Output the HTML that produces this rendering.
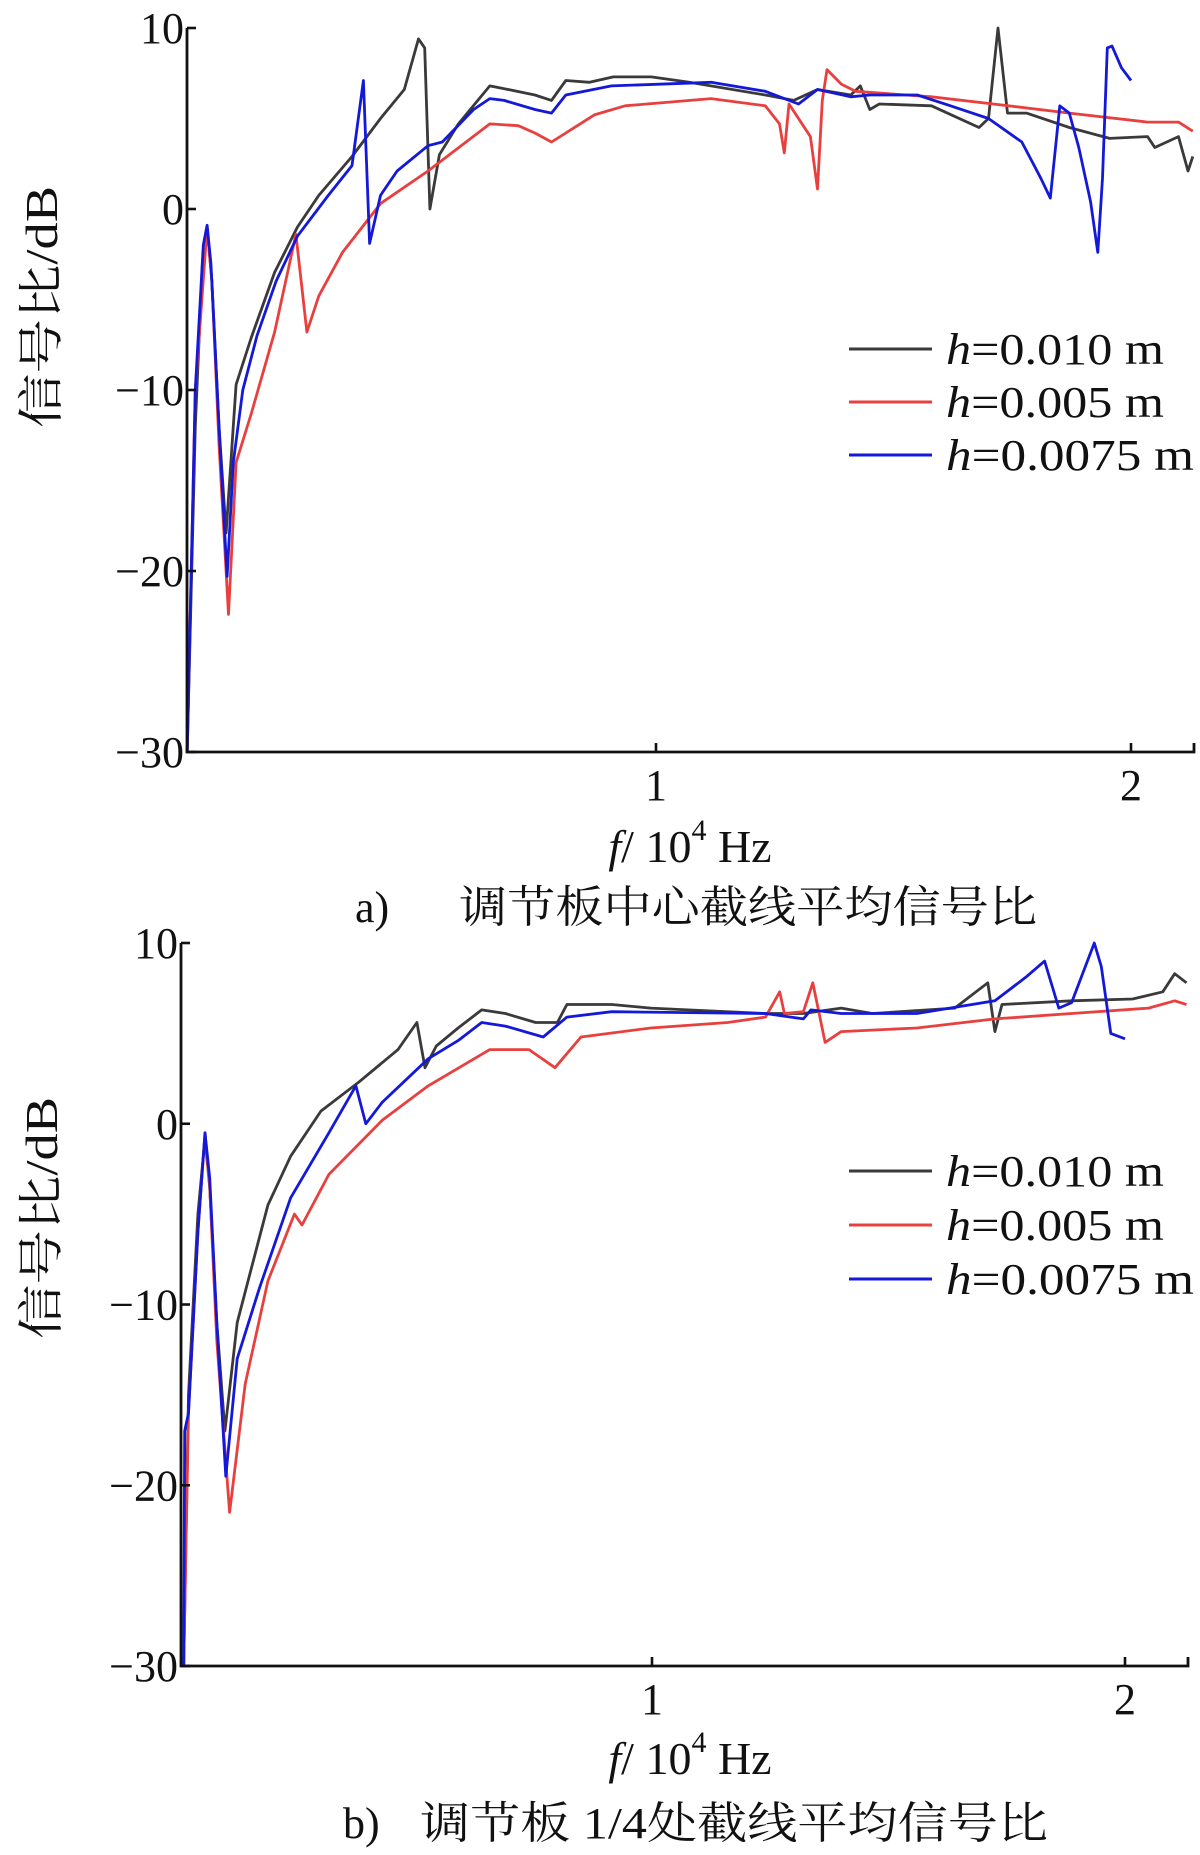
<!DOCTYPE html>
<html><head><meta charset="utf-8"><style>
html,body{margin:0;padding:0;background:#fff;}
svg{display:block;}
text{font-family:"Liberation Serif","Noto Serif CJK SC",serif;fill:#111;}
</style></head><body>
<svg id="fig" width="1200" height="1855" viewBox="0 0 1200 1855" xmlns="http://www.w3.org/2000/svg"></svg>
<script>
const yTicks=[10,0,-10,-20,-30];
const yTickLabels=["10","0","\u221210","\u221220","\u221230"];
const xTicks=[1,2];
const xTickLabels=["1","2"];
const seriesNames=["h=0.010 m","h=0.005 m","h=0.0075 m"];
const seriesColors=["#3a3a3a","#e8403e","#1418d8"];
const aBlack=[[0.013,-30],[0.03,-12],[0.045,-3],[0.055,-1],[0.065,-4],[0.08,-12],[0.095,-17.9],[0.116,-9.7],[0.148,-7.1],[0.197,-3.5],[0.245,-1],[0.29,0.75],[0.36,2.9],[0.42,5.0],[0.47,6.6],[0.5,9.4],[0.513,8.9],[0.524,0],[0.544,3],[0.584,4.7],[0.65,6.8],[0.67,6.7],[0.745,6.3],[0.78,6.0],[0.81,7.1],[0.86,7.0],[0.91,7.3],[0.99,7.3],[1.07,7.0],[1.23,6.3],[1.29,6.0],[1.34,6.6],[1.41,6.3],[1.43,6.8],[1.45,5.5],[1.47,5.8],[1.58,5.7],[1.68,4.5],[1.70,5.0],[1.72,10],[1.74,5.3],[1.78,5.3],[1.87,4.5],[1.955,3.9],[2.035,4.0],[2.05,3.4],[2.10,4.0],[2.12,2.1],[2.13,2.9]];
const aRed=[[0.013,-30],[0.03,-10],[0.055,-1],[0.065,-4],[0.08,-13],[0.1,-22.4],[0.116,-14],[0.148,-11.3],[0.197,-6.8],[0.242,-1.4],[0.265,-6.8],[0.29,-4.8],[0.34,-2.4],[0.42,0.3],[0.52,2.1],[0.65,4.7],[0.71,4.6],[0.745,4.2],[0.78,3.7],[0.81,4.2],[0.87,5.2],[0.935,5.7],[1.116,6.1],[1.23,5.7],[1.26,4.7],[1.27,3.1],[1.28,5.8],[1.325,4.0],[1.34,1.1],[1.35,6.0],[1.36,7.7],[1.39,6.9],[1.42,6.5],[1.58,6.2],[1.71,5.8],[1.87,5.3],[2.035,4.8],[2.1,4.8],[2.13,4.3]];
const aBlue=[[0.013,-30],[0.03,-10],[0.047,-2],[0.055,-0.9],[0.063,-3],[0.08,-12],[0.097,-20.3],[0.11,-14],[0.13,-10],[0.16,-7],[0.2,-4],[0.245,-1.5],[0.31,0.75],[0.36,2.4],[0.384,7.1],[0.397,-1.9],[0.42,0.75],[0.455,2.1],[0.52,3.5],[0.55,3.7],[0.616,5.5],[0.65,6.1],[0.68,6.0],[0.745,5.5],[0.78,5.3],[0.81,6.3],[0.906,6.8],[1.116,7.0],[1.23,6.5],[1.30,5.8],[1.34,6.6],[1.41,6.2],[1.45,6.3],[1.55,6.3],[1.62,5.7],[1.70,5.0],[1.77,3.7],[1.81,1.7],[1.83,0.6],[1.85,5.7],[1.87,5.3],[1.89,3.4],[1.915,0.4],[1.93,-2.4],[1.94,1.7],[1.95,8.9],[1.96,9.0],[1.98,7.8],[2.0,7.1]];
const bBlack=[[0.01,-30],[0.02,-15],[0.04,-5],[0.055,-0.8],[0.065,-3.5],[0.08,-11],[0.097,-17],[0.123,-11],[0.155,-7.8],[0.188,-4.5],[0.236,-1.8],[0.30,0.7],[0.38,2.3],[0.463,4.1],[0.503,5.6],[0.52,3.1],[0.544,4.3],[0.59,5.3],[0.64,6.3],[0.69,6.1],[0.754,5.6],[0.80,5.6],[0.82,6.6],[0.915,6.6],[0.997,6.4],[1.24,6.1],[1.32,6.1],[1.40,6.4],[1.466,6.1],[1.64,6.4],[1.71,7.8],[1.725,5.1],[1.74,6.6],[1.887,6.8],[2.016,6.9],[2.08,7.3],[2.105,8.3],[2.13,7.8]];
const bRed=[[0.01,-30],[0.02,-16],[0.04,-6],[0.055,-0.5],[0.065,-3.5],[0.08,-12],[0.107,-21.5],[0.14,-14.4],[0.188,-8.7],[0.244,-5],[0.26,-5.6],[0.317,-2.8],[0.43,0.2],[0.527,2.1],[0.657,4.1],[0.74,4.1],[0.795,3.1],[0.85,4.8],[0.997,5.3],[1.16,5.6],[1.24,5.9],[1.27,7.3],[1.28,6.1],[1.32,6.2],[1.34,7.8],[1.366,4.5],[1.40,5.1],[1.56,5.3],[1.725,5.8],[1.887,6.1],[2.05,6.4],[2.105,6.8],[2.13,6.6]];
const bBlue=[[0.01,-30],[0.012,-17],[0.02,-16],[0.04,-6],[0.055,-0.5],[0.065,-3],[0.08,-11],[0.099,-19.5],[0.123,-13],[0.17,-9.1],[0.236,-4.1],[0.317,-0.5],[0.374,2.1],[0.395,0],[0.43,1.2],[0.527,3.6],[0.59,4.6],[0.64,5.6],[0.69,5.4],[0.77,4.8],[0.82,5.9],[0.915,6.2],[1.24,6.1],[1.32,5.8],[1.336,6.3],[1.40,6.1],[1.56,6.1],[1.725,6.8],[1.79,8.1],[1.83,9.0],[1.86,6.4],[1.887,6.7],[1.935,10],[1.95,8.7],[1.97,5.0],[2.0,4.7]];

const NS="http://www.w3.org/2000/svg";
const svg=document.getElementById('fig');
function mk(tag,attrs,parent){const e=document.createElementNS(NS,tag);for(const k in attrs)e.setAttribute(k,attrs[k]);(parent||svg).appendChild(e);return e;}

function panel(cfg){
  const g=mk('g',{});
  
  
  const xs=f=>cfg.x1+(f-1)*(cfg.x2-cfg.x1);
  const ys=v=>cfg.y0+(cfg.yb-cfg.y0)*(10-v)/40;
  const data=[cfg.black,cfg.red,cfg.blue];
  data.forEach((s,i)=>{
    const p=mk('polyline',{points:s.map(d=>xs(d[0]).toFixed(1)+','+ys(d[1]).toFixed(1)).join(' '),fill:'none',stroke:seriesColors[i],'stroke-width':2.8,'stroke-linejoin':'round'},g);
    
    
  });
  const ax=mk('path',{d:`M${cfg.ax},${ys(10)} L${cfg.ax},${ys(-30)} L${cfg.xr},${ys(-30)} L${cfg.xr},${ys(-30)-9}`,fill:'none',stroke:'#111','stroke-width':2.8},g);
  
  
  yTicks.forEach((v,i)=>{
    mk('line',{x1:cfg.ax,x2:cfg.ax+9,y1:ys(v),y2:ys(v),stroke:'#111','stroke-width':2.6},g);
    const t=mk('text',{x:cfg.ax-3,y:ys(v)+15,'text-anchor':'end','font-size':44},g);
    t.textContent=yTickLabels[i];
    
    
  });
  xTicks.forEach((v,i)=>{
    mk('line',{x1:xs(v),x2:xs(v),y1:ys(-30),y2:ys(-30)-9,stroke:'#111','stroke-width':2.6},g);
    const t=mk('text',{x:xs(v),y:ys(-30)+48,'text-anchor':'middle','font-size':44},g);
    t.textContent=xTickLabels[i];
    
    
  });
  const yl=mk('text',{transform:`translate(57,${cfg.ylc}) rotate(-90)`,'text-anchor':'middle','font-size':46,textLength:242,lengthAdjust:'spacingAndGlyphs'},g);
  yl.textContent='信号比/dB';
  
  
  const xl=mk('text',{x:690,y:cfg.xlb,'text-anchor':'middle','font-size':46},g);
  xl.innerHTML='<tspan font-style="italic">f</tspan>/ 10<tspan font-size="30" dy="-22">4</tspan><tspan dy="22"> Hz</tspan>';
  
  
  seriesNames.forEach((n,i)=>{
    const y=cfg.legY[i];
    const l=mk('line',{x1:849,x2:932,y1:y,y2:y,stroke:seriesColors[i],'stroke-width':3},g);
    
    
    const t=mk('text',{x:946,y:y+15,'font-size':44,textLength:(i==2?248:218),lengthAdjust:'spacingAndGlyphs'},g);
    t.innerHTML='<tspan font-style="italic">h</tspan>'+n.slice(1);
    
    
  });
  const c1=mk('text',{x:cfg.capX,y:cfg.capY,'font-size':44},g);
  c1.textContent=cfg.capLabel;
  
  
  const c=mk('text',{x:cfg.capX2,y:cfg.capY,'font-size':44,textLength:cfg.capLen,lengthAdjust:'spacingAndGlyphs'},g);
  c.textContent=cfg.caption;
  
  
}
panel({name:'panel-a',x1:656,x2:1131,ax:187,xr:1194,y0:28,yb:752,black:aBlack,red:aRed,blue:aBlue,ylc:307,xlb:862,legY:[349,402,455],capLabel:'a)',caption:'调节板中心截线平均信号比',capX:355,capX2:459,capLen:578,capY:922});
panel({name:'panel-b',x1:652,x2:1125,ax:181,xr:1188,y0:943,yb:1666,black:bBlack,red:bRed,blue:bBlue,ylc:1218,xlb:1774,legY:[1171,1225,1279],capLabel:'b)',caption:'调节板 1/4处截线平均信号比',capX:343,capX2:420,capLen:628,capY:1838});
</script>
</body></html>
